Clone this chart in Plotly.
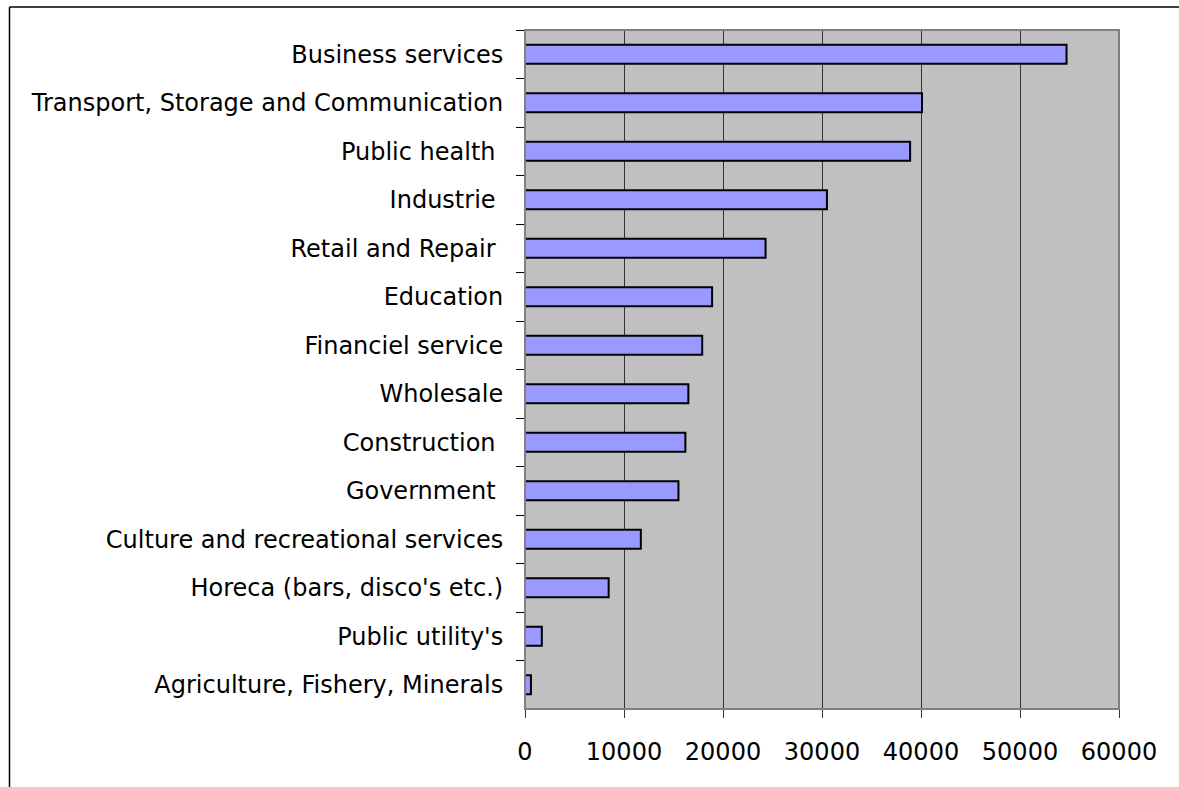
import plotly.graph_objects as go

categories = [
    "Business services",
    "Transport, Storage and Communication",
    "Public health\u00a0",
    "Industrie\u00a0",
    "Retail and Repair\u00a0",
    "Education",
    "Financiel service",
    "Wholesale",
    "Construction\u00a0",
    "Government\u00a0",
    "Culture and recreational services",
    "Horeca (bars, disco's etc.)",
    "Public utility's",
    "Agriculture, Fishery, Minerals",
]
values = [54700, 40100, 38900, 30500, 24300, 18900, 17900, 16500, 16200,
          15500, 11700, 8450, 1700, 600]
x_ticks = [0, 10000, 20000, 30000, 40000, 50000, 60000]

W, H = 1179, 787
L, R, T, B = 525, 60, 30, 78
pw, ph = W - L - R, H - T - B

def px_x(p):
    return (p - L) / pw

def px_y(p):
    return (H - B - p) / ph

fig = go.Figure(go.Bar(
    y=categories, x=values, orientation="h",
    marker=dict(color="#9999FF", line=dict(color="#000000", width=2)),
))

fig.update_layout(
    width=W, height=H,
    margin=dict(l=L, r=R, t=T, b=B),
    paper_bgcolor="white",
    plot_bgcolor="#C0C0C0",
    bargap=0.61,
    showlegend=False,
    font=dict(family="DejaVu Sans", size=24, color="#000000"),
    shapes=[
        # plot area border
        dict(type="rect", xref="paper", yref="paper", x0=0, x1=1, y0=0, y1=1,
             line=dict(color="#808080", width=2), layer="above"),
        # outer chart border: left and top edges (others lie beyond window)
        dict(type="line", xref="paper", yref="paper",
             x0=px_x(9.5), x1=px_x(9.5), y0=px_y(H), y1=px_y(7),
             line=dict(color="#000000", width=1.5), layer="above"),
        dict(type="line", xref="paper", yref="paper",
             x0=px_x(9.5), x1=px_x(W), y0=px_y(7), y1=px_y(7),
             line=dict(color="#000000", width=1.5), layer="above"),
    ],
)

fig.update_xaxes(
    range=[0, 60000], tickvals=x_ticks, ticktext=[str(v) for v in x_ticks],
    showgrid=True, gridcolor="#333333", gridwidth=1,
    zeroline=False, showline=False,
    ticks="outside", ticklen=8, tickcolor="#333333",
    ticklabelstandoff=13,
)
fig.update_yaxes(
    categoryorder="array", categoryarray=categories, autorange="reversed",
    showline=True, linecolor="#000000", linewidth=1,
    ticks="outside", ticklen=8, tickcolor="#000000", tickson="boundaries",
    showgrid=False, ticklabelstandoff=16,
)

fig.write_html("out.html", config={"displayModeBar": False})
